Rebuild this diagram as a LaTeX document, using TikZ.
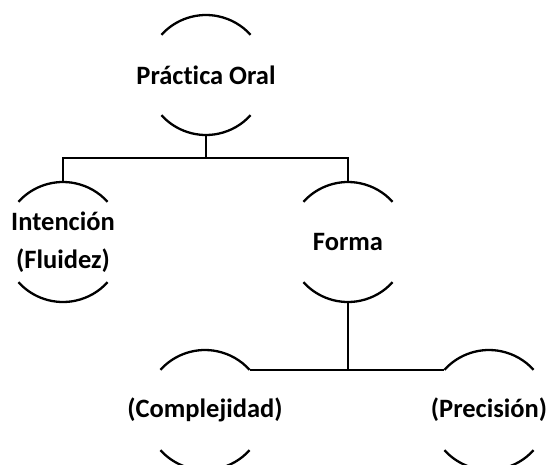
\documentclass[tikz,border=0pt]{standalone}
\usepackage{fontspec}
\setmainfont{Carlito}[Ligatures=NoCommon]

\tikzset{
    linea/.style={line width=2.3pt},
    burbuja/.style={inner sep=0pt, outer sep=0pt, align=center,
        font=\fontsize{26.5}{38}\selectfont\bfseries}
}

% arcos de arriba y de abajo de cada burbuja, y sus puntos de union
\newcommand{\cortes}[1]{%
    \draw[linea] (#1.center) ++(138:60) arc[start angle=138, end angle=42, radius=60];
    \draw[linea] (#1.center) ++(222:60) arc[start angle=222, end angle=318, radius=60];
    \path (#1.center) ++(0,60) coordinate (#1-n)
          (#1.center) ++(0,-60) coordinate (#1-s)
          (#1.center) ++(42:60) coordinate (#1-ne)
          (#1.center) ++(138:60) coordinate (#1-nw);
}

\begin{document}
\begin{tikzpicture}[x=1pt, y=1pt]
    \useasboundingbox (0,0) rectangle (549,-464);

    \node[burbuja] (practica) at (206,-75) {Práctica Oral};
    \node[burbuja] (intencion) at (63,-242) {Intención\\(Fluidez)};
    \node[burbuja] (forma) at (348,-242) {Forma};
    \node[burbuja] (complej) at (205,-410) {(Complejidad)};
    \node[burbuja] (precis) at (489,-410) {(Precisión)};

    \cortes{practica}
    \cortes{intencion}
    \cortes{forma}
    \cortes{complej}
    \cortes{precis}

    \coordinate (barra) at (206,-158);
    \draw[linea] (practica-s) -- (barra);
    \draw[linea] (intencion-n) |- (barra) -| (forma-n);

    \draw[linea] (complej-ne) -- (precis-nw);
    \draw[linea] (forma-s) -- (forma-s |- complej-ne);
\end{tikzpicture}
\end{document}
